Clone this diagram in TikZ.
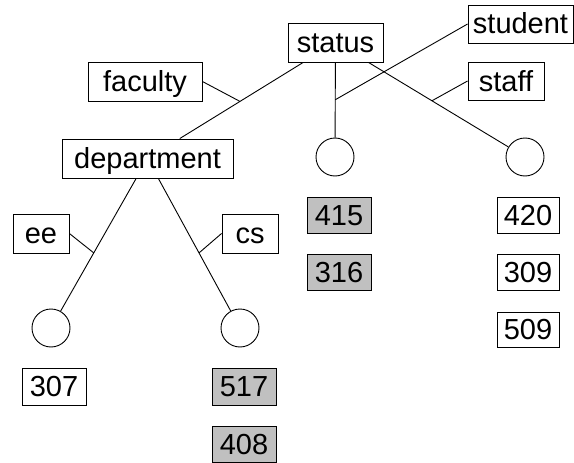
\documentclass[tikz,border=0pt]{standalone}
\usepackage{fontspec}
\setmainfont{Liberation Sans}
\usetikzlibrary{calc}
\definecolor{shade}{RGB}{192,192,192}
\tikzset{
  lbl/.style={draw=black, line width=0.9pt, fill=white, inner sep=0pt, minimum height=38pt,
    text height=20pt, text depth=0pt, font=\fontsize{29}{31}\selectfont},
  gbox/.style={lbl, fill=shade},
  leaf/.style={circle, draw=black, line width=0.9pt, minimum size=38pt, inner sep=0pt},
  edge/.style={draw=black, line width=0.9pt}
}
\begin{document}
\begin{tikzpicture}[x=1pt, y=-1pt]
\useasboundingbox (0,0) rectangle (574,463);
% tree nodes
\node[lbl, minimum width=95pt, minimum height=39pt] (status) at (335.5,42.5) {status};
\node[lbl, minimum width=171pt, minimum height=39pt] (department) at (147.5,158.5) {department};
\node[leaf] (c1) at (51,328) {};
\node[leaf] (c2) at (240,328) {};
\node[leaf] (c3) at (335,157) {};
\node[leaf] (c4) at (525,157) {};
% edges
\draw[edge] (status) -- (department);
\draw[edge] (status) -- (c3);
\draw[edge] (status) -- (c4);
\draw[edge] (department) -- (c1);
\draw[edge] (department) -- (c2);
% edge points
\coordinate (mfac) at ($(status)!0.508!(department)$);
\coordinate (mstu) at ($(status)!0.5!(c3)$);
\coordinate (msta) at ($(status)!0.509!(c4)$);
\coordinate (mee) at ($(department)!0.557!(c1)$);
\coordinate (mcs) at ($(department)!0.557!(c2)$);
% edge labels
\node[lbl, minimum width=114pt, minimum height=39pt] (faculty) at (145,81.5) {faculty};
\node[lbl, minimum width=105pt] (student) at (520.5,24) {student};
\node[lbl, minimum width=76pt] (staff) at (506,81) {staff};
\node[lbl, minimum width=56pt, minimum height=39pt] (ee) at (41,233.5) {ee};
\node[lbl, minimum width=56pt, minimum height=39pt] (cs) at (250,233.5) {cs};
\draw[edge] (faculty.east) -- (mfac);
\draw[edge] (student.west) -- (mstu);
\draw[edge] (staff.west) -- (msta);
\draw[edge] (ee.east) -- (mee);
\draw[edge] (cs.west) -- (mcs);
% leaf contents
\node[lbl, minimum width=64pt, minimum height=37pt] (n307) at (54,386.5) {307};
\node[gbox, minimum width=64pt, minimum height=37pt] (n517) at (244,386.5) {517};
\node[gbox, minimum width=64pt, minimum height=36pt] (n408) at (244,444) {408};
\node[gbox, minimum width=64pt, minimum height=36pt] (n415) at (339,215) {415};
\node[gbox, minimum width=64pt, minimum height=36pt] (n316) at (339,272) {316};
\node[lbl, minimum width=62pt, minimum height=36pt] (n420) at (528,215) {420};
\node[lbl, minimum width=62pt, minimum height=36pt] (n309) at (528,272) {309};
\node[lbl, minimum width=62pt, minimum height=35pt] (n509) at (528,329.5) {509};
\end{tikzpicture}
\end{document}
